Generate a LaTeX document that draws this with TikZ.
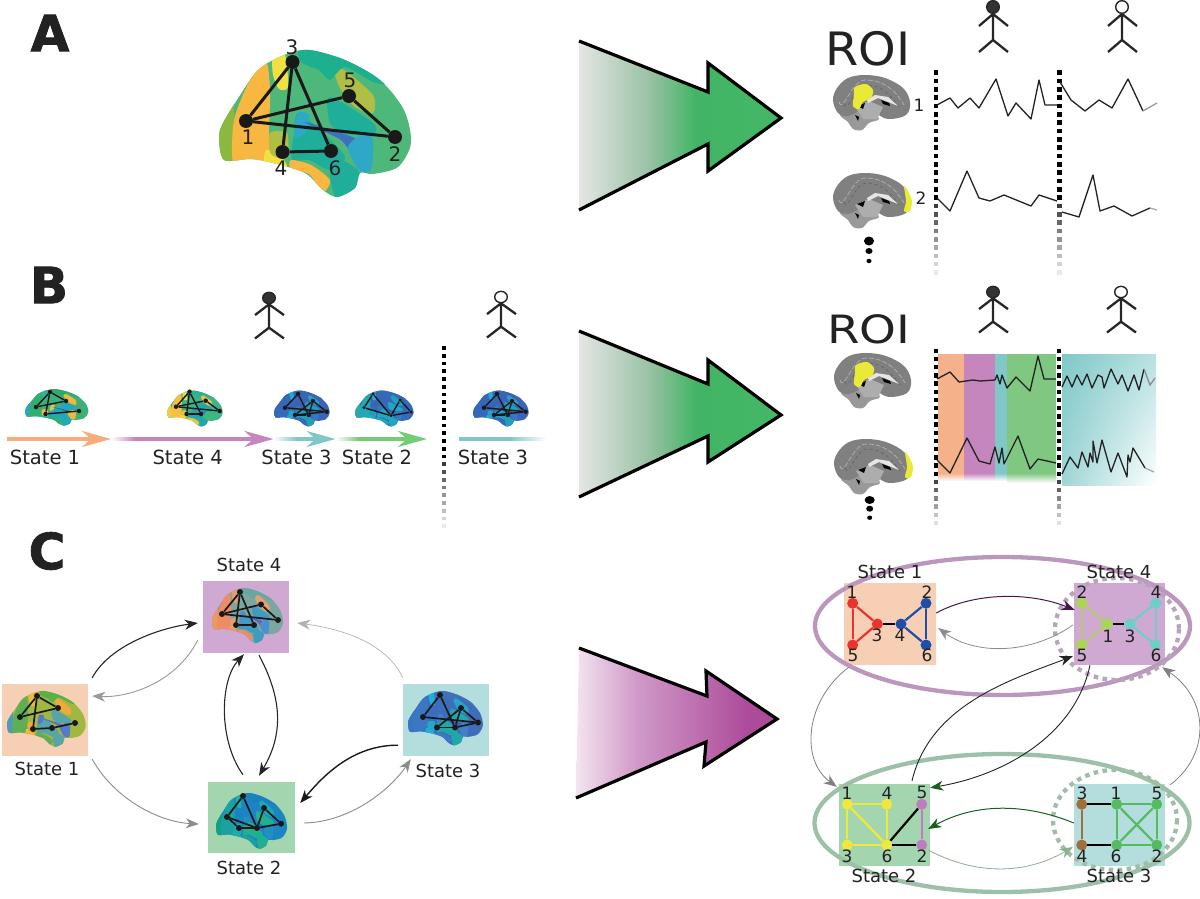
\documentclass[tikz,border=0pt]{standalone}
\usepackage{fontspec}
\setmainfont{DejaVu Sans}
\newfontface\heavyface{DejaVu Sans Bold}[FakeBold=1.6]
\usetikzlibrary{arrows.meta,shadings}

% state colours
\definecolor{stOne}{HTML}{F7CFB5}
\definecolor{stTwo}{HTML}{A3D6AE}
\definecolor{stThree}{HTML}{B3DEDD}
\definecolor{stFour}{HTML}{CFA9D1}
\definecolor{ink}{HTML}{222222}

\definecolor{gA}{HTML}{E4E6E4}\definecolor{gB}{HTML}{9CC2A6}\definecolor{gC}{HTML}{41B565}\definecolor{gD}{HTML}{4ABB68}
\pgfdeclarehorizontalshading{greenfade}{100bp}{color(0bp)=(gA);color(25bp)=(gA);color(42bp)=(gB);color(54bp)=(gC);color(100bp)=(gD)}
\definecolor{pA}{HTML}{F4E4F0}\definecolor{pB}{HTML}{D09AC8}\definecolor{pC}{HTML}{AD4A9A}
\pgfdeclarehorizontalshading{purplefade}{100bp}{color(0bp)=(pA);color(25bp)=(pA);color(40bp)=(pB);color(68bp)=(pC);color(100bp)=(pC)}

% cortex surface palette: back, band, high, strip, base, top, mid, blue, deep
\newcommand{\brainpal}[9]{\definecolor{bBack}{HTML}{#1}\definecolor{bBand}{HTML}{#2}\definecolor{bHigh}{HTML}{#3}\definecolor{bStrip}{HTML}{#4}\definecolor{bBase}{HTML}{#5}\definecolor{bTop}{HTML}{#6}\definecolor{bMid}{HTML}{#7}\definecolor{bBlue}{HTML}{#8}\definecolor{bDeep}{HTML}{#9}}
\newcommand{\blob}[2]{\fill[#1] plot[smooth cycle,tension=.45] coordinates {#2};}
% x, y, xscale, yscale
\newcommand{\brain}[4]{%
  \begin{scope}[shift={(#1,#2)},xscale=#3,yscale=#4]
    \clip plot[smooth cycle,tension=.5] coordinates {(0,87)(5,110)(32,109)(54,113)(86,123)(104,140)(118,147)(136,138)(141,123)(154,124)(179,117)(192,93)(185,60)(161,30)(126,10)(90,0)(65,5)(39,20)(18,50)(4,73)};
    \fill[bBase] (-5,-5) rectangle (200,155);
    \fill[bBack] (-5,-5) rectangle (15,155);
    \blob{bBand}{(14,112)(15,70)(30,32)(47,12)(51,40)(50,85)(50,118)(30,112)}
    \blob{bHigh}{(54,7)(66,5)(69,37)(60,39)(54,25)}
    \blob{bHigh}{(47,100)(60,104)(68,118)(46,118)}
    \blob{bStrip}{(51,83)(68,83)(68,108)(52,104)}
    \blob{bStrip}{(115,20)(125,20)(154,45)(154,63)(136,57)(122,40)}
    \blob{bTop}{(82,-5)(126,5)(168,33)(154,32)(126,17)(111,30)(100,20)(82,12)}
    \blob{bMid}{(111,47)(154,73)(154,84)(126,84)(111,73)}
    \blob{bMid}{(75,83)(79,63)(104,83)(126,107)(111,120)(90,110)(73,110)}
    \blob{bBlue}{(79,63)(90,65)(86,83)(75,87)}
    \blob{bDeep}{(86,72)(122,83)(145,93)(136,107)(122,90)(97,78)}
    \blob{bBlue}{(145,83)(154,90)(152,120)(140,120)(129,97)}
    \blob{bBand}{(72,110)(92,115)(111,130)(104,142)(90,124)(72,120)}
    \blob{bMid}{(122,110)(141,123)(136,140)(118,150)(111,123)}
  \end{scope}}
% prefix, nodes (n/x/y), links (u/v), dot size, link width
\newcommand{\net}[5]{%
  \foreach \n/\px/\py in {#2} \node[circle,fill=black!90,inner sep=0pt,minimum size=#4pt] (#1\n) at (\px,\py) {};
  \foreach \u/\v in {#3} \draw[line width=#5pt,black!90] (#1\u) -- (#1\v);}
% stick figure: x, y of head, head fill, vertical scale
\newcommand{\stick}[4]{%
  \begin{scope}[shift={(#1,#2)},yscale=#4,line width=2.3pt,black!85]
    \draw (0,6) -- (0,33) (-14,19) -- (0,7) -- (15,19) (-14,45) -- (0,33) -- (15,45);
    \draw[line width=1.4pt,fill=#3] (0,0) ellipse (6.3 and 6.3);
  \end{scope}}
% vertical square dots: x, y0, black ones, fading ones, step, size
\newcommand{\tickline}[6]{%
  \foreach \i in {1,...,#3} \fill[black] ({#1-#6/2},{#2+(\i-1)*#5-#6/2}) rectangle ++(#6,#6);
  \foreach \i in {1,...,#4} {\pgfmathsetmacro\g{85*(1-\i/(#4+1))}
    \fill[black!\g] ({#1-#6/2},{#2+(#3+\i-1)*#5-#6/2}) rectangle ++(#6,#6);}}
% medial slice: x, y, 1 = cingulate patch, 2 = frontal pole
\definecolor{roiYellow}{HTML}{E9EA36}
\newcommand{\medial}[3]{%
  \begin{scope}[shift={(#1,#2)}]
    \fill[black!40] plot[smooth cycle,tension=.6] coordinates {(7,40)(12,33)(25,31)(38,36)(46,44)(36,48)(29,55)(20,54)(15,47)};
    \fill[black!50] plot[smooth cycle,tension=.6] coordinates {(0,25)(4,13)(15,3)(32,0)(52,3)(70,13)(77,27)(73,40)(55,44)(42,38)(30,35)(15,41)(5,38)};
    \draw[black!32,line width=.8pt,dash pattern=on 5pt off 2pt] (6,27) to[out=-75,in=180] (32,5) to[out=0,in=120] (71,30);
    \draw[black!62,line width=.6pt,dash pattern=on 3pt off 3pt] (11,29) to[out=-70,in=180] (33,10) to[out=0,in=125] (66,32);
    \fill[black!32] (22,32) -- (36,26) -- (50,32) -- (44,44) -- (30,44) -- cycle;
    \fill[white!90!black] (34,25) -- (42,20) -- (55,22) -- (65,31) -- (55,27) -- (45,23) -- (35,28) -- cycle;
    \fill[black] (24,31) -- (32,28) -- (30,34) -- cycle (48,25) -- (56,28) -- (57,31) -- (50,29) -- cycle (22,40) -- (26,42) -- (25,46) -- cycle;
    \ifnum#3=1
      \fill[roiYellow] plot[smooth cycle,tension=.5] coordinates {(22,12)(33,9)(40,15)(38,23)(30,27)(26,34)(20,31)(21,20)};
    \else
      \fill[roiYellow] plot[smooth cycle,tension=.5] coordinates {(71,13)(76,20)(79,28)(77,38)(71,38)(73,28)};
    \fi
  \end{scope}}
\definecolor{plumTip}{HTML}{4B1550}\definecolor{pineTip}{HTML}{1B5E20}
\tikzset{
  stlab/.style={font=\fontsize{18}{18}\selectfont,text=ink,inner sep=0pt},
  tlab/.style={font=\fontsize{19.5}{19.5}\selectfont,text=ink,inner sep=0pt},
  numlab/.style={font=\fontsize{17}{17}\selectfont,text=ink,inner sep=0pt},
  biglab/.style={font=\fontsize{20}{20}\selectfont,text=ink,inner sep=0pt},
  panel/.style={font=\fontsize{50}{50}\heavyface,text=ink,inner sep=0pt},
  tile/.style={inner sep=0pt,minimum width=#1},
  ts/.style={line width=1.3pt,ink,line join=round},
  blockout/.style={line width=3.2pt,line join=miter},
  tip/.style={-{Stealth[length=13pt,width=10pt,inset=4pt]}},
  pinetip/.style={-{Stealth[length=13pt,width=10pt,inset=4pt,color=pineTip]}},
  flow/.style={line width=3.5pt,-{Stealth[length=29pt,width=16pt,inset=9pt]}},
  gdot/.style={circle,inner sep=0pt,minimum size=11pt,fill=#1},
}
\definecolor{gRed}{HTML}{E8332F}\definecolor{gNavy}{HTML}{1F4EA8}
\definecolor{gLime}{HTML}{A8D84F}\definecolor{gOlive}{HTML}{B9C873}
\definecolor{gAqua}{HTML}{6CCFC8}\definecolor{gYel}{HTML}{F0E83C}
\definecolor{gPink}{HTML}{C07CC0}\definecolor{gBrown}{HTML}{A0703C}
\definecolor{gGreen}{HTML}{55BB60}
\definecolor{ringP}{HTML}{BB96BD}\definecolor{ringG}{HTML}{9CC0A8}
\definecolor{dotP}{HTML}{B8A4BC}\definecolor{dotG}{HTML}{A0BDAA}
\definecolor{bOr}{HTML}{F5B18A}\definecolor{bPu}{HTML}{C586BD}
\definecolor{bTe}{HTML}{80C8C8}\definecolor{bGr}{HTML}{80C782}

\begin{document}
\begin{tikzpicture}[x=1pt,y=-1pt]
\useasboundingbox (0,0) rectangle (1200,899);

% panel letters
\node[panel] (pa) at (50,33) {A};
\node[panel] (pb) at (49,285) {B};
\node[panel] (pc) at (47,551) {C};

% big arrows
\shade[shading=greenfade] (579,41) -- (708,92) -- (708,63) -- (781,118) -- (708,171) -- (708,144) -- (579,210) -- cycle;
\draw[blockout] (579,41) -- (708,92) -- (708,63) -- (781,118) -- (708,171) -- (708,144) -- (579,210);
\shade[shading=greenfade] (579,331) -- (708,384) -- (708,360) -- (781,415) -- (708,462) -- (708,436) -- (579,497) -- cycle;
\draw[blockout] (579,331) -- (708,384) -- (708,360) -- (781,415) -- (708,462) -- (708,436) -- (579,497);
\shade[shading=purplefade] (579,648) -- (707,696) -- (706,671) -- (777,719) -- (704,766) -- (706,742) -- (576,798) -- cycle;
\draw[blockout] (579,648) -- (707,696) -- (706,671) -- (777,719) -- (704,766) -- (706,742) -- (576,798);

% A: surface with network
\brainpal{8DB83F}{F8B740}{F0E040}{B0BE45}{4DB87A}{1DB08F}{1FAE9A}{2FA8C8}{3E6FC0}
\brain{219}{50}{1}{1}
\net{a}{1/246/121,2/395/137,3/292.5/62,4/282.5/152,5/349/96,6/331/151}{1/3,3/4,3/6,4/6,1/5,1/2,5/2}{14}{3}
\node[biglab] (an3) at (292,47) {3};
\node[biglab] (an5) at (350,80) {5};
\node[biglab] (an1) at (248,137) {1};
\node[biglab] (an2) at (395,154) {2};
\node[biglab] (an4) at (281,168) {4};
\node[biglab] (an6) at (335,168) {6};

% A: right side
\node[font=\fontsize{46}{46}\selectfont,text=ink,inner sep=0pt] (roia) at (868,49) {\scalebox{1.04}[1]{ROI}};
\stick{993}{7}{black!80}{1}
\stick{1122}{7}{white}{1}
\medial{833}{75}{1}
\medial{833}{173}{2}
\node[numlab] (ar1) at (919,105) {1};
\node[numlab] (ar2) at (921,198) {2};
\tickline{936}{72.7}{16}{9}{8.33}{4.4}
\tickline{1059.5}{72.7}{16}{9}{8.33}{4.4}
\draw[ts] (937,105) -- (950,98) -- (958,108) -- (970,98) -- (979,108) -- (996,79) -- (1008,116) -- (1016,103) -- (1031,119) -- (1039,80) -- (1045,105) -- (1057,105);
\draw[ts] (1060,82) -- (1071,100) -- (1085,111) -- (1099,100) -- (1112,108) -- (1128,79) -- (1143,111);
\draw[line width=1.3pt,black!40] (1143,111) -- (1157,103);
\draw[ts] (937,198) -- (950,211) -- (967,171) -- (979,198) -- (990,201) -- (1004,195) -- (1031,206) -- (1039,195) -- (1057,201);
\draw[ts] (1062,212) -- (1079,217) -- (1093,175) -- (1100,211) -- (1114,206) -- (1132,216) -- (1150,208);
\draw[line width=1.3pt,black!35] (1150,208) -- (1157,210);
\fill[black] (869,241) ellipse (5 and 4.5);
\fill[black] (869,251) ellipse (3.5 and 3);
\fill[black] (869,261) ellipse (2.5 and 2.2);

% B: left timeline
\stick{269}{298}{black!80}{.9}
\stick{501}{297}{white}{.9}
\brainpal{2DA8B0}{2FB070}{30B0A0}{F0B840}{3DB078}{30A870}{1FA8C0}{F0B840}{3A60B8}
\brain{25}{389}{.33}{.25}
\net{ba}{a/50/392,b/36/407,c/66/401,d/45.6/414,f/79/411}{a/b,a/d,a/c,b/c,d/f}{4.5}{1.4}
\brainpal{E8D040}{F8C040}{F0D848}{F0C040}{3EB488}{30B090}{20A8A8}{40B878}{2F80C0}
\brain{167}{390.5}{.29}{.245}
\net{bb}{a/189.5/391.7,b/176/406.7,c/205.7/400.7,d/219.7/411,e/186.6/414,f/201/414}{a/b,a/e,a/f,b/c,b/d,c/d,e/f}{4.5}{1.4}
\brainpal{3468B8}{3468B8}{20A8D8}{2A9FC8}{3A64B4}{3A64B4}{20A0B8}{3478C0}{2A50A8}
\brain{274}{390.5}{.29}{.245}
\net{bc}{a/298/394,b/285/407.7,c/313/401,d/326.6/411.7,e/295/415,f/308.7/415}{a/b,a/f,b/d,c/e,c/f,c/d,e/f,e/d}{4.5}{1.4}
\brainpal{30A8A0}{20A8B8}{20B0D0}{20A0C0}{3668B8}{3668B8}{20A8C0}{3478C0}{3060B0}
\brain{355}{390.5}{.305}{.245}
\net{bd}{a/373/394,b/364/407.7,c/400/400,d/411/412,f/391/415.7}{a/b,a/f,b/f,f/c,c/d,f/d}{3.5}{1.4}
\brainpal{3468B8}{3468B8}{20A8D8}{2A9FC8}{3A64B4}{3A64B4}{20A0B8}{3478C0}{2A50A8}
\brain{473}{390.5}{.29}{.245}
\net{be}{a/497/394,b/484/407.7,c/512/401,d/525.6/411.7,e/494/415,f/507.7/415}{a/b,a/f,b/d,c/e,c/f,c/d,e/f,e/d}{4.5}{1.4}
\coordinate (f0) at (6.5,439);
\coordinate (f1) at (111,439);
\coordinate (f2) at (273.5,439);
\coordinate (f3) at (335.6,439);
\coordinate (f4) at (427,439);
\coordinate (f5) at (459,439);
\coordinate (f6) at (546,439);
\draw[flow,color=bOr!90!orange] (f0) -- (f1);
\draw[flow,color=bPu] (f1) -- (f2);
\shade[left color=white,right color=bPu] (111,437.2) rectangle (135,440.8);
\draw[flow,color=bTe] (f2) -- (f3);
\shade[left color=white,right color=bTe] (273.5,437.2) rectangle (296,440.8);
\draw[flow,color=bGr!90!green] (f3) -- (f4);
\shade[left color=white,right color=bGr] (336,437.2) rectangle (358,440.8);
\draw[line width=3.5pt,color=bTe] (f5) -- (f6);
\shade[left color=bTe,right color=white] (510,437.2) rectangle (546,440.8);
\node[tlab] (bs1) at (45,457) {State 1};
\node[tlab] (bs2) at (187.7,457) {State 4};
\node[tlab] (bs3) at (296.5,457) {State 3};
\node[tlab] (bs4) at (377,457.5) {State 2};
\node[tlab] (bs5) at (493,457.5) {State 3};
\tickline{444}{348}{15}{9}{7.75}{3.8}

% B: right side
\node[font=\fontsize{39}{39}\selectfont,text=ink,inner sep=0pt] (roib) at (869,329) {\scalebox{1.2}[1]{ROI}};
\stick{993}{292}{black!80}{.9}
\stick{1121}{292}{white}{.9}
\fill[bOr] (938,354) rectangle (964,473);
\fill[bPu] (964,354) rectangle (995,473);
\fill[bTe] (995,354) rectangle (1007,473);
\fill[bGr] (1007,354) rectangle (1056,473);
\shade[top color=bOr,bottom color=white] (938,473) rectangle (964,481);
\shade[top color=bPu,bottom color=white] (964,473) rectangle (995,481);
\shade[top color=bTe,bottom color=white] (995,473) rectangle (1007,481);
\shade[top color=bGr,bottom color=white] (1007,473) rectangle (1056,483);
\shade[upper left=bTe,upper right=bTe!55!white,lower left=bTe!75!white,lower right=white] (1062,354) rectangle (1156,485);
\medial{834}{353}{1}
\medial{834}{439}{2}
\tickline{936}{350.7}{16}{6}{8.2}{4.4}
\tickline{1058.7}{350.7}{16}{6}{8.2}{4.4}
\draw[ts] (937,379) -- (950,372) -- (959,382) -- (973,380) -- (980,381) -- (995,380) -- (997,375) -- (1000,384) -- (1002,375) -- (1007,388) -- (1016,377) -- (1030,391) -- (1038,356) -- (1044,379) -- (1056,379);
\draw[ts] (1062,387) -- (1067,376) -- (1072,387) -- (1077,375) -- (1082,385) -- (1087,374) -- (1092,388) -- (1098,375) -- (1102,377) -- (1104,388) -- (1111,369) -- (1118,384) -- (1122,375) -- (1128,391) -- (1134,375) -- (1139,390) -- (1144,369);
\draw[line width=1.3pt,black!45] (1144,369) -- (1150,385) -- (1155,378);
\draw[ts] (937,460) -- (950,473) -- (967,438) -- (979,461) -- (990,464) -- (995,447) -- (999,463) -- (1002,448) -- (1004,464) -- (1018,436) -- (1030,469) -- (1038,459) -- (1056,463);
\draw[ts] (1062,474) -- (1070,457) -- (1078,468) -- (1082,452) -- (1088,467) -- (1090,453) -- (1093,462) -- (1093,441) -- (1097,463) -- (1102,440) -- (1111,472) -- (1118,453) -- (1127,477) -- (1128,455) -- (1130,462) -- (1133,448) -- (1145,468);
\draw[line width=1.3pt,black!35] (1145,468) -- (1154,472);
\fill[black] (869.7,500) ellipse (5 and 4);
\fill[black] (869.7,508.7) ellipse (3.5 and 3);
\fill[black] (869.7,517.7) ellipse (2.5 and 2.2);

% C: left state graph
\node[tile=86pt,minimum height=72pt,fill=stOne] (l1) at (45,720) {};
\node[tile=86pt,minimum height=72pt,fill=stFour] (l4) at (246,617) {};
\node[tile=86pt,minimum height=72pt,fill=stThree] (l3) at (446,720) {};
\node[tile=87pt,minimum height=71pt,fill=stTwo] (l2) at (251.5,817.5) {};
\brainpal{4F9AB8}{5DAE55}{F0B840}{F0A840}{A0B840}{58B048}{58A4A8}{5878C8}{6070C0}
\brain{7}{691}{.41}{.38}
\net{c1}{a/37/696,b/20/717,c/58/708,d/33/729,e/52/728,f/75/723}{a/b,a/d,a/c,b/c,d/e,e/f}{6}{1.7}
\brainpal{E89A62}{EE8C66}{F09868}{E8A070}{7BA7A0}{6AA6A0}{3F9CC0}{4A90D0}{6060C0}
\brain{212}{588}{.37}{.375}
\net{c4}{a/240/592,b/222/614,c/261/604.5,d/278/620,e/236/625,f/254/625}{a/b,a/e,a/f,e/f,b/c,b/d,c/d}{6}{1.7}
\brainpal{10A088}{1CA0A0}{20B0A0}{20A8B0}{1B85C4}{1B80C0}{20B090}{2090C0}{2070C0}
\brain{216}{793}{.37}{.38}
\net{c2}{a/243/796,b/227/817,c/264/808,d/281/823.7,e/239/828,f/257/828}{a/b,a/f,b/e,e/f,b/f,f/c,c/d,f/d}{6}{1.7}
\brainpal{3A75C0}{3A78C4}{1FB0D8}{24A8C8}{3E6DBB}{3F70B8}{20A8A8}{3F80C8}{3A60B0}
\brain{408}{691}{.39}{.37}
\net{c3}{a/440/695,b/423/717,c/461/708,d/478/722.5,e/437/727.5,f/455/727.5}{a/b,a/f,b/d,c/f,c/d,e/f,e/c,f/d}{6}{1.7}
\node[stlab] (ls4) at (249,565) {State 4};
\node[stlab] (ls1) at (47,769) {State 1};
\node[stlab] (ls3) at (448,771) {State 3};
\node[stlab] (ls2) at (249,868) {State 2};
\draw[tip,line width=1.1pt,black!85] ([shift={(4,-6)}]l1.north east) .. controls (110,645) and (160,628) .. ([shift={(-5,6)}]l4.west);
\draw[tip,line width=.9pt,black!40] ([shift={(-5,23)}]l4.west) .. controls (175,685) and (125,698) .. ([shift={(4,-24)}]l1.east);
\draw[tip,line width=1.1pt,black!85] ([shift={(13,2)}]l4.south) .. controls (283,700) and (283,735) .. ([shift={(7.5,-6)}]l2.north);
\draw[tip,line width=1.1pt,black!85] ([shift={(-8.5,-7)}]l2.north) .. controls (218,740) and (220,680) .. ([shift={(-2,1)}]l4.south);
\draw[tip,line width=.7pt,black!30] ([shift={(0,-6)}]l3.north west) .. controls (385,640) and (335,628) .. ([shift={(8,6)}]l4.east);
\draw[tip,line width=1.4pt,black!90] ([shift={(-5,-11)}]l3.south west) .. controls (350,745) and (320,780) .. ([shift={(5,-14.5)}]l2.east);
\draw[tip,line width=.9pt,black!45] ([shift={(9,5.5)}]l2.east) .. controls (350,822) and (390,790) .. ([shift={(8,3)}]l3.south west);
\draw[tip,line width=.9pt,black!45] ([shift={(4,3)}]l1.south east) .. controls (115,800) and (160,822) .. ([shift={(-9,6.5)}]l2.west);

% C: right state graph
\node[tile=92pt,minimum height=82pt,fill=stOne] (r1) at (890,624) {};
\node[tile=91pt,minimum height=82pt,fill=stFour] (r4) at (1119.5,624) {};
\node[tile=91pt,minimum height=82pt,fill=stTwo] (r2) at (884.5,825) {};
\node[tile=91pt,minimum height=82pt,fill=stThree] (r3) at (1119.5,825) {};
\draw[ringP,line width=4.3pt] (1002.5,626) ellipse (187.5 and 69);
\draw[ringG,line width=4.3pt] (1002,823) ellipse (187.5 and 69);
\draw[dotP,line width=4.3pt,dash pattern=on 4.5pt off 4.5pt] (1117,629) ellipse (62 and 51);
\draw[dotG,line width=4.3pt,dash pattern=on 4.5pt off 4.5pt] (1115,820) ellipse (62 and 50);

\foreach \n/\px/\py/\c in {1/852.7/603.3/gRed,5/852.7/645/gRed,3/877.3/624/gRed,4/901/624/gNavy,2/926/603.3/gNavy,6/926/645/gNavy}
  \node[gdot=\c] (p\n) at (\px,\py) {};
\foreach \u/\v/\c in {1/3/gRed,3/5/gRed,1/5/gRed,3/4/black,2/4/gNavy,4/6/gNavy,2/6/gNavy}
  \draw[line width=2.2pt,\c] (p\u) -- (p\v);
\foreach \n/\px/\py/\c in {2/1081.7/603/gLime,5/1081.7/645/gLime,1/1107/624/gLime,3/1130/624/gAqua,4/1155.7/603/gAqua,6/1155.7/645/gAqua}
  \node[gdot=\c] (q\n) at (\px,\py) {};
\foreach \u/\v/\c in {2/1/gOlive,1/5/gOlive,2/5/gOlive,1/3/black,3/4/gAqua,3/6/gAqua,4/6/gAqua}
  \draw[line width=2.2pt,\c] (q\u) -- (q\v);
\foreach \n/\px/\py/\c in {1/847.3/804.3/gYel,4/886.7/804.3/gYel,3/847.3/845/gYel,6/886.7/845/gYel,5/921.7/804.3/gPink,2/921.7/845/gPink}
  \node[gdot=\c] (s\n) at (\px,\py) {};
\foreach \u/\v/\c in {1/4/gYel,1/3/gYel,3/6/gYel,1/6/gYel,4/6/gYel,5/2/gPink,6/5/black,6/2/black}
  \draw[line width=2.2pt,\c] (s\u) -- (s\v);
\foreach \n/\px/\py/\c in {3/1081.7/804.3/gBrown,4/1081.7/845/gBrown,1/1116.7/804.3/gGreen,5/1156.7/804.3/gGreen,6/1116.7/845/gGreen,2/1156.7/845/gGreen}
  \node[gdot=\c] (t\n) at (\px,\py) {};
\foreach \u/\v/\c in {3/4/gBrown,3/1/black,4/6/black,1/5/gGreen,5/2/gGreen,2/6/gGreen,6/1/gGreen,1/2/gGreen,5/6/gGreen}
  \draw[line width=2.2pt,\c] (t\u) -- (t\v);

\foreach \k/\t/\px/\py in {a/1/852/592,b/5/853/655,c/3/877/635,d/4/900/635,e/2/927/592,f/6/927/655,
    g/2/1082/592,h/5/1082/655,i/1/1108/636,j/3/1130/636,k/4/1156/592,l/6/1156/655,
    m/1/847/793,n/4/887/793,o/5/922/792,p/3/847/856,q/6/887/856,r/2/922/856,
    s/3/1082/793,u/1/1116/793,v/5/1157/793,w/4/1082/856,x/6/1116/856,y/2/1157/856}
  \node[numlab] (n\k) at (\px,\py) {\t};
\node[stlab] (rs1) at (890,572) {State 1};
\node[stlab] (rs4) at (1119,572) {State 4};
\node[stlab] (rs2) at (884,876) {State 2};
\node[stlab] (rs3) at (1119,876) {State 3};

\draw[line width=1pt,plumTip,tip] ([shift={(0,-11)}]r1.east) .. controls (975,592) and (1030,592) .. ([shift={(1,-14)}]r4.west);
\draw[line width=.8pt,black!45,tip] ([shift={(-1,1)}]r4.west) .. controls (1030,655) and (975,655) .. ([shift={(2,4)}]r1.east);
\draw[line width=.8pt,black!50,tip] ([shift={(5,2)}]r1.south west) .. controls (805,700) and (800,760) .. ([shift={(-2,3)}]r2.north west);
\draw[line width=.9pt,ink,tip] ([shift={(27.5,-3)}]r2.north) .. controls (930,705) and (1010,680) .. ([shift={(-1,-9)}]r4.south west);
\draw[line width=.9pt,ink,pinetip] ([shift={(-29.5,0)}]r4.south) .. controls (1075,735) and (1005,775) .. ([shift={(0,4)}]r2.north east);
\draw[line width=.8pt,black!50,tip] ([shift={(5,1)}]r3.north east) .. controls (1210,755) and (1210,700) .. ([shift={(-3,2)}]r4.south east);
\draw[line width=1pt,pineTip,tip] ([shift={(0,-2)}]r3.west) .. controls (1025,803) and (975,803) .. ([shift={(-2,4)}]r2.east);
\draw[line width=.8pt,pineTip!50!white,tip] ([shift={(-2,25)}]r2.east) .. controls (975,875) and (1025,875) .. ([shift={(-1,22)}]r3.west);
\end{tikzpicture}
\end{document}
